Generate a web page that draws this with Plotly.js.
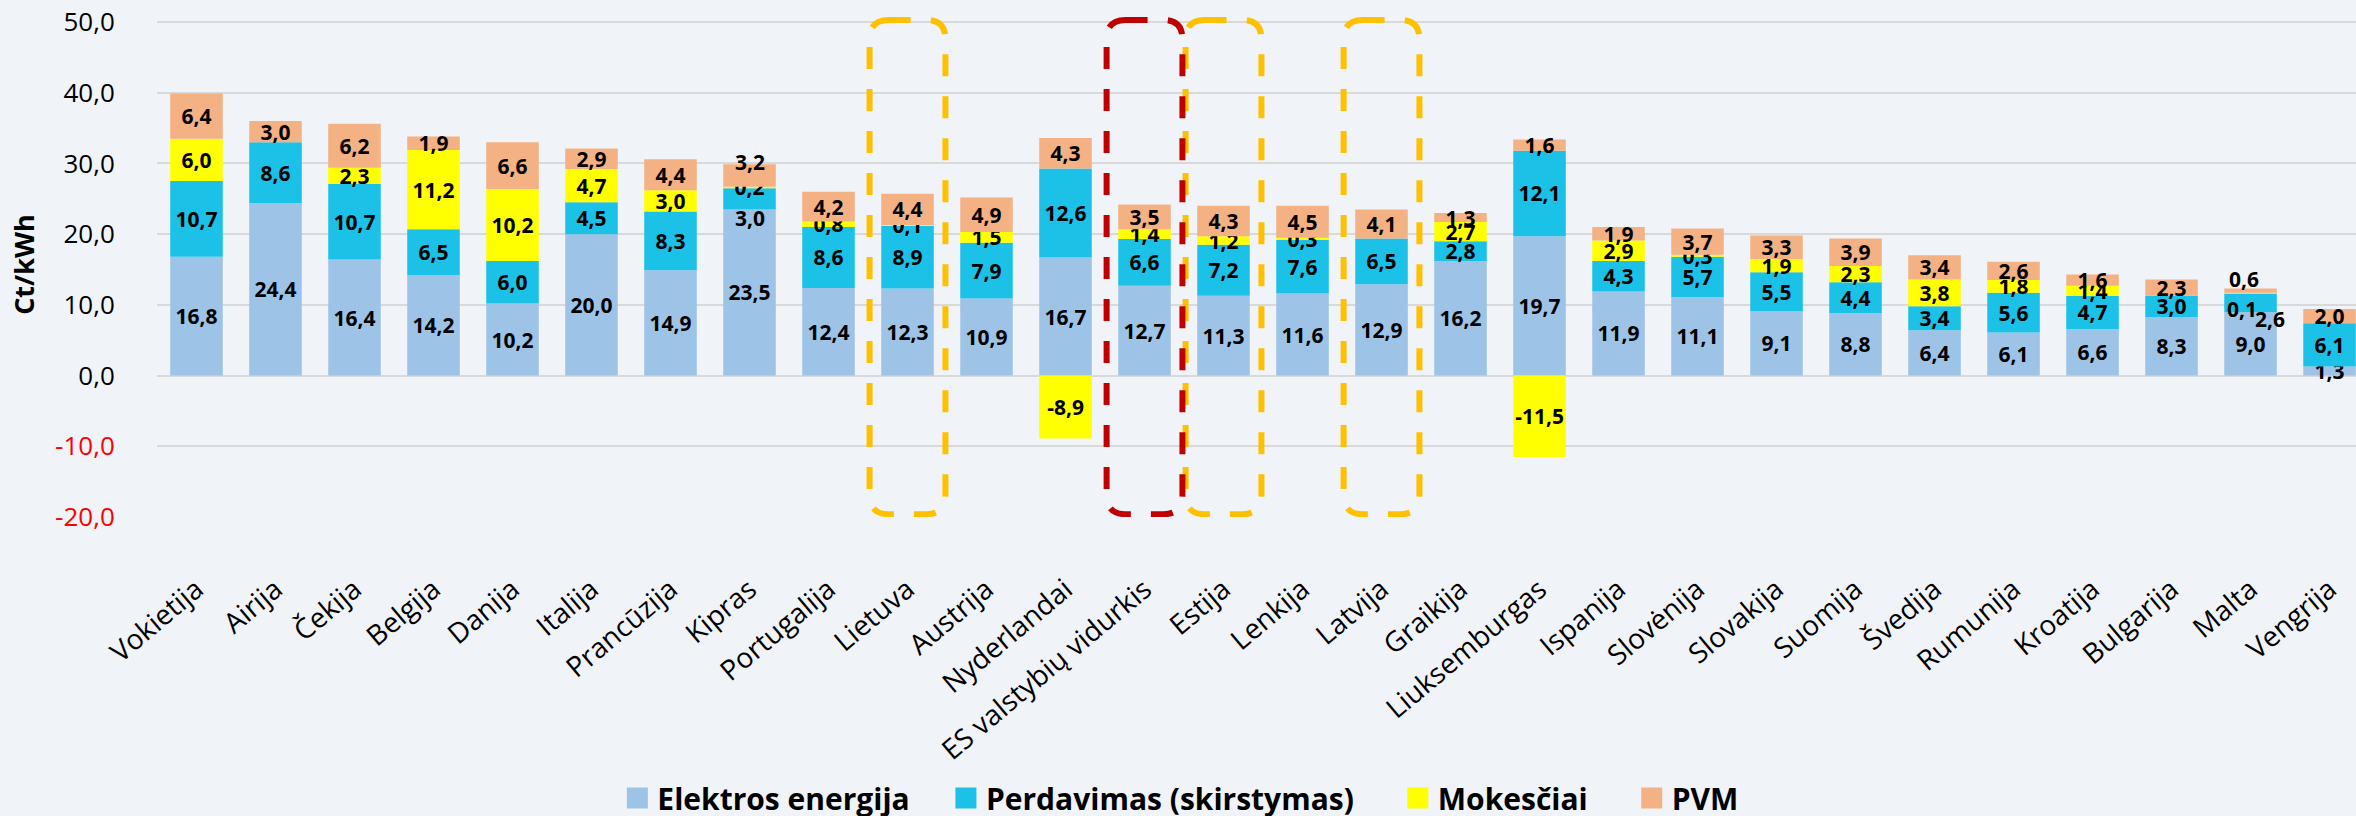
<!DOCTYPE html>
<html>
<head>
<meta charset="utf-8">
<script src="https://cdn.plot.ly/plotly-3.0.1.min.js"></script>
<style>
  html, body { margin: 0; padding: 0; background: #F0F3F7; }
  #chart { width: 2356px; height: 816px; }
</style>
</head>
<body>
<div id="chart"></div>
<script>
// ---- Data ----
const categories = ["Vokietija","Airija","Čekija","Belgija","Danija","Italija","Prancūzija","Kipras","Portugalija","Lietuva","Austrija","Nyderlandai","ES valstybių vidurkis","Estija","Lenkija","Latvija","Graikija","Liuksemburgas","Ispanija","Slovėnija","Slovakija","Suomija","Švedija","Rumunija","Kroatija","Bulgarija","Malta","Vengrija"];
const elektrosEnergija = [16.8,24.4,16.4,14.2,10.2,20.0,14.9,23.5,12.4,12.3,10.9,16.7,12.7,11.3,11.6,12.9,16.2,19.7,11.9,11.1,9.1,8.8,6.4,6.1,6.6,8.3,9.0,1.3];
const perdavimas = [10.7,8.6,10.7,6.5,6.0,4.5,8.3,3.0,8.6,8.9,7.9,12.6,6.6,7.2,7.6,6.5,2.8,12.1,4.3,5.7,5.5,4.4,3.4,5.6,4.7,3.0,2.6,6.1];
const mokesciai = [6.0,null,2.3,11.2,10.2,4.7,3.0,0.2,0.8,0.1,1.5,-8.9,1.4,1.2,0.3,null,2.7,-11.5,2.9,0.3,1.9,2.3,3.8,1.8,1.4,null,0.1,null];
const pvm = [6.4,3.0,6.2,1.9,6.6,2.9,4.4,3.2,4.2,4.4,4.9,4.3,3.5,4.3,4.5,4.1,1.3,1.6,1.9,3.7,3.3,3.9,3.4,2.6,1.6,2.3,0.6,2.0];
const seriesNames = ["Elektros energija","Perdavimas (skirstymas)","Mokesčiai","PVM"];
const yTickValues = [-20,-10,0,10,20,30,40,50];
const highlightedOrange = ["Lietuva","Estija","Latvija"];
const highlightedRed = ["ES valstybių vidurkis"];

// ---- Styles / label placement (pixel nudges for crowded labels, as in the reference) ----
const FONT = "'Open Sans', 'DejaVu Sans', sans-serif";
const colors = ["#9DC3E6","#1BC1E6","#FFFF00","#F4B183"];
const legendPadding = [4, 5, 5, 0]; // trailing non-breaking spaces after each legend entry
const labelNudges = [
  { series: 1, category: "Kipras", dx: 0, dy: -19 },
  { series: 3, category: "Kipras", dx: 0, dy: 13 },
  { series: 1, category: "Malta", dx: 19, dy: -16 },
  { series: 2, category: "Malta", dx: -9, dy: -16 },
  { series: 3, category: "Malta", dx: -7, dy: 12 }
];

const seriesValues = [elektrosEnergija, perdavimas, mokesciai, pvm];
function fmt(v) { return v.toFixed(1).replace('.', ','); }
function isNudged(s, i) {
  return labelNudges.some(n => n.series === s && n.category === categories[i]);
}

const traces = seriesValues.map((vals, s) => ({
  type: 'bar',
  name: seriesNames[s] + '\u00a0'.repeat(legendPadding[s]),
  x: categories,
  y: vals,
  width: 0.665,
  marker: { color: colors[s], line: { width: 0 } },
  texttemplate: vals.map((v, i) => (v === null || isNudged(s, i)) ? '' : '%{y:.1f}'),
  textposition: 'inside',
  insidetextanchor: 'middle',
  textangle: 0,
  constraintext: 'none',
  cliponaxis: false,
  textfont: { family: FONT, size: 21, color: '#000000', weight: 700 },
  hoverinfo: 'x+y+name'
}));

// segment centres computed from the stacked data (positive and negative stacks separately)
function segmentCentre(s, i) {
  let pos = 0, neg = 0;
  for (let k = 0; k < s; k++) {
    const v = seriesValues[k][i];
    if (v === null) continue;
    if (v >= 0) pos += v; else neg += v;
  }
  const v = seriesValues[s][i];
  return v >= 0 ? pos + v / 2 : neg + v / 2;
}
const annotations = labelNudges.map(n => {
  const i = categories.indexOf(n.category);
  return {
    x: n.category, y: segmentCentre(n.series, i), xref: 'x', yref: 'y',
    text: fmt(seriesValues[n.series][i]), showarrow: false,
    xshift: n.dx, yshift: n.dy,
    font: { family: FONT, size: 21, color: '#000000', weight: 700 }
  };
});

const yTickText = yTickValues.map(v => v < 0 ? '<span style="color:#FF0000">' + fmt(v) + '</span>' : fmt(v));

function roundedBox(idx, color) {
  const x0 = idx - 0.48, x1 = idx + 0.48;
  const y0 = -19.6, y1 = 50.3;
  const rx = 0.24, ry = 2.7;
  const path = `M ${x0 + rx},${y1} L ${x1 - rx},${y1} Q ${x1},${y1} ${x1},${y1 - ry} ` +
               `L ${x1},${y0 + ry} Q ${x1},${y0} ${x1 - rx},${y0} L ${x0 + rx},${y0} ` +
               `Q ${x0},${y0} ${x0},${y0 + ry} L ${x0},${y1 - ry} Q ${x0},${y1} ${x0 + rx},${y1} Z`;
  return {
    type: 'path', xref: 'x', yref: 'y', path: path,
    line: { color: color, width: 6, dash: '22px,20px' },
    fillcolor: 'rgba(0,0,0,0)', layer: 'above'
  };
}
const shapes = [];
highlightedOrange.forEach(c => shapes.push(roundedBox(categories.indexOf(c), '#FFC000')));
highlightedRed.forEach(c => shapes.push(roundedBox(categories.indexOf(c), '#C00000')));

const layout = {
  width: 2356, height: 816,
  paper_bgcolor: '#F0F3F7',
  plot_bgcolor: '#F0F3F7',
  separators: ', ',
  barmode: 'relative',
  margin: { l: 157, r: 0, t: 12, b: 299.4, pad: 0 },
  font: { family: FONT, color: '#000000' },
  uniformtext: { mode: 'show', minsize: 21 },
  showlegend: true,
  legend: {
    orientation: 'h',
    xref: 'container', yref: 'container',
    x: 0.501, xanchor: 'center',
    y: 0.022, yanchor: 'middle',
    traceorder: 'normal',
    font: { family: FONT, size: 30, color: '#000000', weight: 700 },
    bgcolor: 'rgba(0,0,0,0)',
    itemclick: false
  },
  xaxis: {
    type: 'category',
    range: [-0.5, 27.335],
    tickangle: -40,
    tickfont: { family: FONT, size: 28, color: '#000000' },
    ticks: 'outside', ticklen: 44, tickcolor: 'rgba(0,0,0,0)',
    showgrid: false, showline: false, zeroline: false,
    automargin: false, fixedrange: true
  },
  yaxis: {
    range: [-20, 51.415],
    tickvals: yTickValues,
    ticktext: yTickText,
    tickfont: { family: FONT, size: 26, color: '#000000' },
    ticks: 'outside', ticklen: 36, tickcolor: 'rgba(0,0,0,0)',
    showgrid: true, gridcolor: '#D9D9D9', gridwidth: 2,
    zeroline: true, zerolinecolor: '#D9D9D9', zerolinewidth: 2,
    showline: false,
    title: { text: 'Ct/kWh', font: { family: FONT, size: 27, color: '#000000', weight: 700 }, standoff: 12 },
    automargin: false, fixedrange: true
  },
  shapes: shapes,
  annotations: annotations
};

Plotly.newPlot('chart', traces, layout, { displayModeBar: false, staticPlot: true }).then(gd => {
  // larger square legend keys, as in the reference
  gd.querySelectorAll('.legend .legendpoints path').forEach(p => {
    p.setAttribute('d', 'M10.5,10.5H-10.5V-10.5H10.5Z');
  });
});
</script>
</body>
</html>
